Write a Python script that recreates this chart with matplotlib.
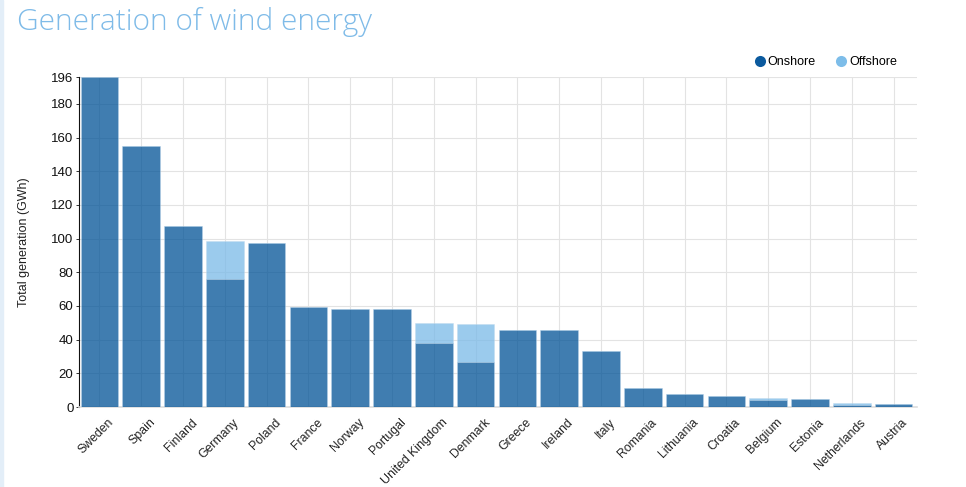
import numpy as np
import matplotlib.pyplot as plt
from matplotlib.lines import Line2D
from matplotlib.transforms import ScaledTranslation

countries = ['Sweden', 'Spain', 'Finland', 'Germany', 'Poland', 'France', 'Norway',
             'Portugal', 'United Kingdom', 'Denmark', 'Greece', 'Ireland', 'Italy',
             'Romania', 'Lithuania', 'Croatia', 'Belgium', 'Estonia', 'Netherlands', 'Austria']
onshore = [196, 155, 107.5, 76, 97.5, 59.5, 58.5, 58, 38, 26.5, 46, 45.5, 33,
           11, 8, 6.5, 4.2, 4.7, 1.2, 1.8]
offshore = [0, 0, 0, 22.5, 0, 0, 0, 0, 12, 22.8, 0, 0, 0,
            0, 0, 0, 1.1, 0, 1.3, 0]
yticks = [0, 20, 40, 60, 80, 100, 120, 140, 160, 180, 196]

on_col = (0.0, 0.32, 0.59, 0.75)
off_col = (0.48, 0.73, 0.91, 0.75)
edge = (0.75, 0.85, 0.93, 0.7)

fig = plt.figure(figsize=(9.66, 4.87), dpi=100)
ax = fig.add_axes([79 / 966, 1 - 407 / 487, 838 / 966, 330 / 487])

x = np.arange(len(countries))
ax.bar(x, offshore, width=0.9, bottom=onshore, color=off_col, edgecolor=edge,
       linewidth=0.4, zorder=2)
ax.bar(x, onshore, width=0.9, color=on_col, edgecolor=edge, linewidth=0.4, zorder=3)

ax.set_xlim(-0.49, 19.56)
ax.set_ylim(0, 196)
ax.set_yticks(yticks)
ax.set_xticks(x)
ax.tick_params(axis='y', labelsize=9.5, length=2, width=0.6, pad=2, colors='#111111')
ax.tick_params(axis='x', length=0, pad=6)
ax.set_xticklabels(countries, rotation=45, ha='right', rotation_mode='anchor',
                   fontsize=8.8, family='Liberation Sans', color='#222222')
for lab in ax.get_yticklabels():
    lab.set_family('Liberation Sans')
shift = ScaledTranslation(8 / 100, -1 / 100, fig.dpi_scale_trans)
for lab in ax.get_xticklabels():
    lab.set_transform(lab.get_transform() + shift)
ax.grid(True, color='#e3e3e3', linewidth=0.8, zorder=0)
ax.set_axisbelow(True)

for s in ['top', 'right']:
    ax.spines[s].set_visible(False)
ax.spines['left'].set_color('#111111')
ax.spines['left'].set_linewidth(0.8)
ax.spines['bottom'].set_color('#dddddd')
ax.spines['bottom'].set_linewidth(1.2)

ax.set_ylabel('Total generation (GWh)', fontsize=9, family='Liberation Sans',
              color='#222222')
ax.yaxis.set_label_coords(-0.058, 0.5)

fig.text(17 / 966, 1 - 22 / 487, 'Generation of wind energy', fontsize=21.5,
         family='Open Sans', weight='light', color='#7fbbe8', va='center')

handles = [Line2D([], [], marker='o', linestyle='', markersize=8,
                  markerfacecolor='#0b5a9e', markeredgecolor='none', label='Onshore'),
           Line2D([], [], marker='o', linestyle='', markersize=8,
                  markerfacecolor='#7dbde9', markeredgecolor='none', label='Offshore')]
fig.legend(handles=handles, loc='center', bbox_to_anchor=(825 / 966, 1 - 62 / 487),
           ncol=2, frameon=False, handletextpad=0.15, columnspacing=1.5,
           handlelength=1.0, prop={'family': 'Liberation Sans', 'size': 9})

fig.add_artist(plt.Rectangle((0, 0), 3 / 966, 1, transform=fig.transFigure,
                             color='#e3eef8', zorder=0))

fig.savefig('out.png', dpi=100)
